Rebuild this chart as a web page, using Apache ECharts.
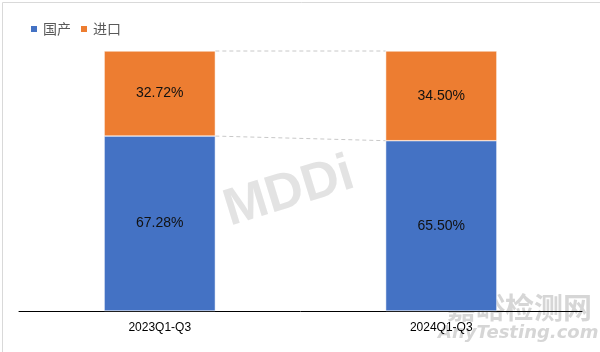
<!DOCTYPE html>
<html><head><meta charset="utf-8">
<script src="https://cdn.jsdelivr.net/npm/echarts@6/dist/echarts.min.js"></script>
<style>html,body{margin:0;padding:0;background:#fff}#c{width:600px;height:352px}</style>
</head><body><div id="c"></div>
<script>
const categories = ['2023Q1-Q3', '2024Q1-Q3'];
const domestic = [67.28, 65.50];
const imports = [32.72, 34.50];
const seriesNames = ['国产', '进口'];

const BAR_FRAC = 0.395;
const chart = echarts.init(document.getElementById('c'));
const totals = domestic.map((d, i) => d + imports[i]);
const seriesLineData = [
  [0, 1, domestic[0], domestic[1]],
  [0, 1, totals[0], totals[1]]
];
chart.setOption({
  animation: false,
  color: ['#4472C4', '#ED7D31'],
  legend: {
    left: 24, top: 17, itemWidth: 8, itemHeight: 8, itemGap: 8, icon: 'rect',
    textStyle: { color: '#595959', fontSize: 14, fontFamily: 'Noto Sans CJK SC' },
    data: seriesNames
  },
  grid: { left: 19, right: 18, top: 51, bottom: 41 },
  xAxis: {
    type: 'category', data: categories,
    axisLine: { lineStyle: { color: '#000', width: 1 } },
    axisTick: { show: false },
    axisLabel: { color: '#000', fontSize: 12, margin: 11, fontFamily: 'Liberation Sans' }
  },
  yAxis: { type: 'value', min: 0, max: 100, show: false, splitLine: { show: false } },
  series: [
    {
      name: seriesNames[0], type: 'bar', stack: 's', data: domestic, barWidth: (BAR_FRAC * 100) + '%',
      itemStyle: { borderColor: '#fff', borderWidth: 0.5 },
      label: { show: true, position: 'inside', color: '#111', fontSize: 14, fontFamily: 'Liberation Sans',
        formatter: p => p.value.toFixed(2) + '%' }
    },
    {
      name: seriesNames[1], type: 'bar', stack: 's', data: imports, barWidth: (BAR_FRAC * 100) + '%',
      itemStyle: { borderColor: '#fff', borderWidth: 0.5 },
      label: { show: true, position: 'inside', color: '#111', fontSize: 14, fontFamily: 'Liberation Sans',
        formatter: p => p.value.toFixed(2) + '%' }
    },
    {
      type: 'custom', silent: true, data: seriesLineData, z: 1,
      renderItem: function (params, api) {
        const half = api.size([1, 0])[0] * BAR_FRAC / 2;
        const p1 = api.coord([api.value(0), api.value(2)]);
        const p2 = api.coord([api.value(1), api.value(3)]);
        return {
          type: 'line',
          shape: { x1: p1[0] + half, y1: p1[1], x2: p2[0] - half, y2: p2[1] },
          style: { stroke: '#c8c8c8', lineWidth: 1, lineDash: [4, 3] }
        };
      }
    }
  ],
  graphic: [
    { type: 'rect', left: 0, top: 0, shape: { width: 599, height: 351 }, style: { fill: 'none', stroke: '#d9d9d9', lineWidth: 1 }, silent: true },
    { type: 'text', left: 218, top: 148, rotation: 0.3, style: { text: 'MDDi', fill: 'rgba(200,200,200,0.5)', font: 'bold 52px Liberation Sans' }, silent: true },
    { type: 'text', left: 447, top: 293, style: { text: '嘉峪检测网', fill: 'rgba(180,180,180,0.55)', font: 'bold 29px "Noto Sans CJK SC"' }, silent: true },
    { type: 'text', left: 438, top: 324, style: { text: 'AnyTesting.com', fill: 'rgba(180,180,180,0.55)', font: 'italic bold 18px "DejaVu Sans"' }, silent: true }
  ]
});
</script></body></html>
